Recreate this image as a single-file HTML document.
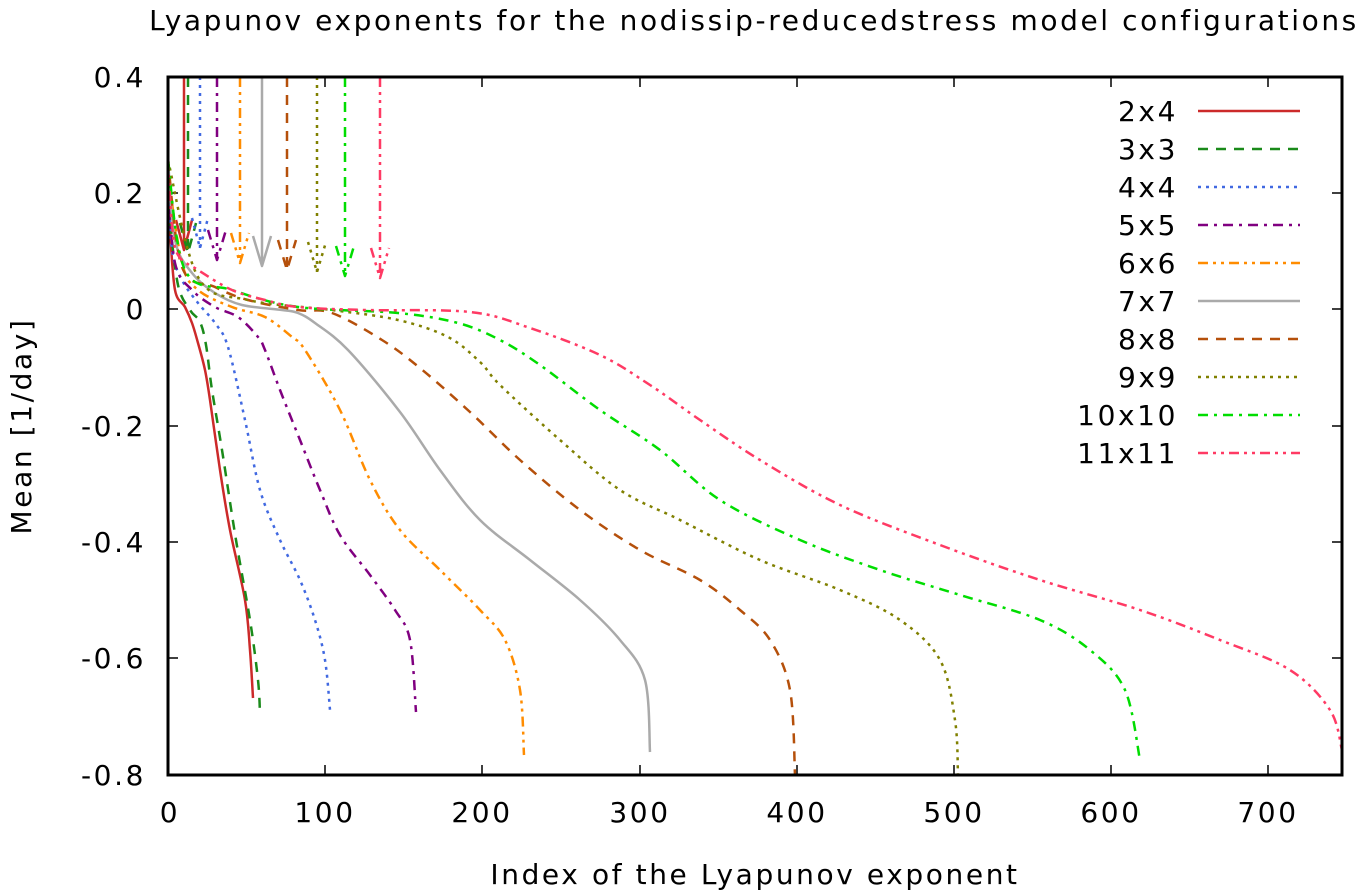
<!DOCTYPE html><html><head><style>body{margin:0;background:#fff}svg{display:block}text{font-family:"DejaVu Sans","Liberation Sans",sans-serif;font-size:28px;letter-spacing:2.6px;fill:#000}</style></head><body>
<svg width="1370" height="896" viewBox="0 0 1370 896">
<text x="754" y="30" text-anchor="middle">Lyapunov exponents for the nodissip-reducedstress model configurations</text>
<g stroke="#000" stroke-width="1.5">
<line x1="168" y1="77" x2="178" y2="77"/><line x1="1342" y1="77" x2="1332" y2="77"/>
<line x1="168" y1="193" x2="178" y2="193"/><line x1="1342" y1="193" x2="1332" y2="193"/>
<line x1="168" y1="309" x2="178" y2="309"/><line x1="1342" y1="309" x2="1332" y2="309"/>
<line x1="168" y1="426" x2="178" y2="426"/><line x1="1342" y1="426" x2="1332" y2="426"/>
<line x1="168" y1="542" x2="178" y2="542"/><line x1="1342" y1="542" x2="1332" y2="542"/>
<line x1="168" y1="658" x2="178" y2="658"/><line x1="1342" y1="658" x2="1332" y2="658"/>
<line x1="325" y1="775" x2="325" y2="765"/><line x1="325" y1="77" x2="325" y2="87"/>
<line x1="482" y1="775" x2="482" y2="765"/><line x1="482" y1="77" x2="482" y2="87"/>
<line x1="640" y1="775" x2="640" y2="765"/><line x1="640" y1="77" x2="640" y2="87"/>
<line x1="797" y1="775" x2="797" y2="765"/><line x1="797" y1="77" x2="797" y2="87"/>
<line x1="954" y1="775" x2="954" y2="765"/><line x1="954" y1="77" x2="954" y2="87"/>
<line x1="1111" y1="775" x2="1111" y2="765"/><line x1="1111" y1="77" x2="1111" y2="87"/>
<line x1="1268" y1="775" x2="1268" y2="765"/><line x1="1268" y1="77" x2="1268" y2="87"/>
</g>
<g text-anchor="end">
<text x="146" y="87">0.4</text><text x="146" y="203">0.2</text><text x="146" y="319">0</text><text x="146" y="436">-0.2</text><text x="146" y="552">-0.4</text><text x="146" y="668">-0.6</text><text x="146" y="785">-0.8</text>
</g>
<g text-anchor="middle">
<text x="170" y="822">0</text><text x="325" y="822">100</text><text x="482" y="822">200</text><text x="640" y="822">300</text><text x="797" y="822">400</text><text x="954" y="822">500</text><text x="1111" y="822">600</text><text x="1268" y="822">700</text>
<text x="755" y="884">Index of the Lyapunov exponent</text>
</g>
<text transform="translate(31,426) rotate(-90)" text-anchor="middle">Mean [1/day]</text>
<g fill="none" stroke-width="2.5" stroke-linejoin="round">
<g stroke="#cc2a2a"><polyline points="168,190 170,230 175,290 185,307 192,323 198,343 205,370 210,400 220,470 230,530 245,600 250,650 253,698"/><path d="M184,77V250M176,220L184,250L192,220"/></g>
<g stroke="#1a8a1a" stroke-dasharray="10,8"><polyline points="168,170 170,220 178,285 190,310 200,322 206,345 212,390 222,450 236,540 250,620 258,680 260,715"/><path d="M188,77V253M180,223L188,253L196,223"/></g>
<g stroke="#4169e1" stroke-dasharray="3,5"><polyline points="168,180 172,250 182,280 198,303 215,323 228,347 245,420 260,490 280,540 300,580 315,620 325,660 330,710"/><path d="M200,77V248M192,218L200,248L208,218"/></g>
<g stroke="#800080" stroke-dasharray="10,6,3,6"><polyline points="168,185 175,263 192,290 215,307 238,317 258,337 265,350 280,390 300,440 320,490 340,535 370,575 395,610 410,640 416,712"/><path d="M217,77V260M208,230L217,260L226,230"/></g>
<g stroke="#ff8c00" stroke-dasharray="10,5,3,5,3,5"><polyline points="168,175 182,263 198,290 232,307 265,317 292,337 305,350 340,410 370,480 400,530 440,570 480,610 505,640 520,690 524,755"/><path d="M240,77V263M231,233L240,263L249,233"/></g>
<g stroke="#aaaaaa"><polyline points="168,160 175,240 192,273 215,293 242,305 282,310 298,313 315,323 348,350 400,412 440,470 480,520 530,560 580,600 620,640 645,680 650,752"/><path d="M262,77V266M253,236L262,266L271,236"/></g>
<g stroke="#b5500b" stroke-dasharray="10,8"><polyline points="168,160 182,267 215,287 248,300 298,310 332,313 382,340 420,368 470,412 520,460 580,510 640,550 700,580 740,610 770,640 790,690 795,775"/><path d="M287,77V270M278,240L287,270L296,240"/></g>
<g stroke="#808000" stroke-dasharray="3,5"><polyline points="168,160 198,277 248,300 332,310 398,320 448,337 480,362 500,385 560,440 620,490 680,520 760,560 840,590 900,620 940,660 955,720 958,775"/><path d="M317,77V272M308,242L317,272L326,242"/></g>
<g stroke="#00dd00" stroke-dasharray="10,6,3,6"><polyline points="168,160 185,270 232,290 298,307 398,313 458,323 500,340 540,365 600,410 660,450 720,500 800,540 880,570 960,595 1040,620 1090,650 1125,690 1140,760"/><path d="M345,77V276M336,246L345,276L354,246"/></g>
<g stroke="#ff3a64" stroke-dasharray="10,5,3,5,3,5"><polyline points="168,160 172,225 178,255 198,270 232,290 265,300 298,307 365,310 470,312 530,328 600,355 650,385 700,420 760,460 840,505 940,545 1040,580 1140,610 1220,640 1290,670 1330,710 1342,750"/><path d="M380,77V278M371,248L380,278L389,248"/></g>
</g>
<g text-anchor="end">
<text x="1178" y="121">2x4</text><text x="1178" y="159">3x3</text><text x="1178" y="197">4x4</text><text x="1178" y="235">5x5</text><text x="1178" y="273">6x6</text><text x="1178" y="311">7x7</text><text x="1178" y="349">8x8</text><text x="1178" y="387">9x9</text><text x="1178" y="425">10x10</text><text x="1178" y="463">11x11</text>
</g>
<g stroke-width="2.5">
<line x1="1198" y1="111" x2="1300" y2="111" stroke="#cc2a2a"/>
<line x1="1198" y1="149" x2="1300" y2="149" stroke="#1a8a1a" stroke-dasharray="10,8"/>
<line x1="1198" y1="187" x2="1300" y2="187" stroke="#4169e1" stroke-dasharray="3,5"/>
<line x1="1198" y1="225" x2="1300" y2="225" stroke="#800080" stroke-dasharray="10,6,3,6"/>
<line x1="1198" y1="263" x2="1300" y2="263" stroke="#ff8c00" stroke-dasharray="10,5,3,5,3,5"/>
<line x1="1198" y1="301" x2="1300" y2="301" stroke="#aaaaaa"/>
<line x1="1198" y1="339" x2="1300" y2="339" stroke="#b5500b" stroke-dasharray="10,8"/>
<line x1="1198" y1="377" x2="1300" y2="377" stroke="#808000" stroke-dasharray="3,5"/>
<line x1="1198" y1="415" x2="1300" y2="415" stroke="#00dd00" stroke-dasharray="10,6,3,6"/>
<line x1="1198" y1="453" x2="1300" y2="453" stroke="#ff3a64" stroke-dasharray="10,5,3,5,3,5"/>
</g>
<rect x="168" y="77" width="1174" height="698" fill="none" stroke="#000" stroke-width="3"/>
</svg>
<script>
document.querySelectorAll('polyline').forEach(function(pl){
var p=pl.getAttribute('points').trim().split(/\s+/).map(function(s){return s.split(',').map(Number);});
var d='M'+p[0][0]+','+p[0][1];
for(var i=0;i<p.length-1;i++){
var p0=p[Math.max(i-1,0)],p1=p[i],p2=p[i+1],p3=p[Math.min(i+2,p.length-1)];
var c1x=p1[0]+(p2[0]-p0[0])/6,c1y=p1[1]+(p2[1]-p0[1])/6,c2x=p2[0]-(p3[0]-p1[0])/6,c2y=p2[1]-(p3[1]-p1[1])/6;
d+=' C'+c1x.toFixed(1)+','+c1y.toFixed(1)+' '+c2x.toFixed(1)+','+c2y.toFixed(1)+' '+p2[0]+','+p2[1];}
var path=document.createElementNS('http://www.w3.org/2000/svg','path');path.setAttribute('d',d);
pl.parentNode.replaceChild(path,pl);});
</script>
</body></html>
